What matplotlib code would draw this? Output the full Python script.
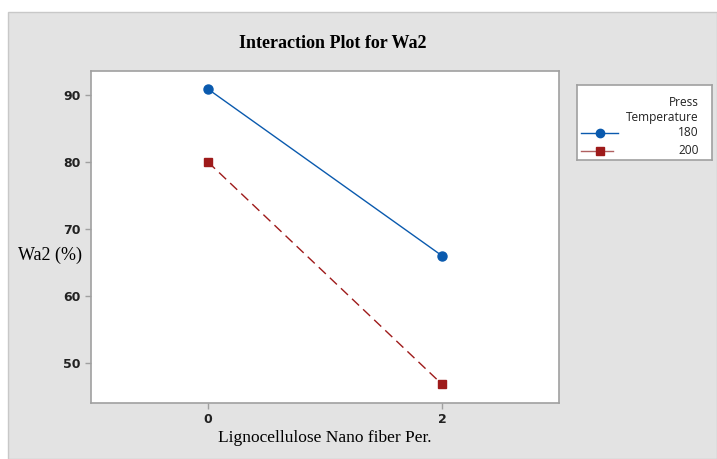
import matplotlib.pyplot as plt
from matplotlib.patches import Rectangle
from matplotlib.lines import Line2D

# data
fiber = [0, 2]
temps = ['180', '200']
wa2_180 = [90.9, 66.0]
wa2_200 = [80.0, 46.8]

blue = '#0A5AAE'
red = '#9E1A1A'
gray_bg = '#E3E3E3'

fig = plt.figure(figsize=(7.17, 4.59), dpi=100, facecolor='white')
fig.patches.append(Rectangle((8 / 717, 0), 709 / 717, 447 / 459, transform=fig.transFigure,
                             facecolor=gray_bg, edgecolor='#C8C8C8', lw=1, zorder=-10))

ax = fig.add_axes([91 / 717, 1 - 403 / 459, 468 / 717, 332 / 459])
ax.set_facecolor('white')
ax.plot(fiber, wa2_180, color=blue, lw=1, marker='o', ms=6.5, label=temps[0])
ax.plot(fiber, wa2_200, color=red, lw=1, ls=(0, (7, 4)), marker='s', ms=6, label=temps[1])

ax.set_xlim(-1, 3)
ax.set_ylim(44.0, 93.6)
ax.set_xticks(fiber)
ax.set_yticks([50, 60, 70, 80, 90])
for s in ax.spines.values():
    s.set_color('#A0A0A0')
    s.set_linewidth(1.2)
ax.tick_params(colors='#A0A0A0', labelcolor='#222222', length=4, width=1, labelsize=9)
for t in ax.get_xticklabels() + ax.get_yticklabels():
    t.set_fontweight('bold')
    t.set_family('DejaVu Sans')

fig.text(333 / 717, 1 - 43 / 459, 'Interaction Plot for Wa2', family='Liberation Serif',
         fontweight='bold', fontsize=13, ha='center', va='center')
fig.text(50 / 717, 1 - 255 / 459, 'Wa2 (%)', family='Liberation Serif', fontsize=13,
         ha='center', va='center')
fig.text(325 / 717, 1 - 438 / 459, 'Lignocellulose Nano fiber Per.', family='Liberation Serif',
         fontsize=12.5, ha='center', va='center')

# legend box
lax = fig.add_axes([577 / 717, 1 - 160 / 459, 135 / 717, 75 / 459])
lax.set_xlim(0, 1)
lax.set_ylim(0, 1)
lax.set_xticks([])
lax.set_yticks([])
for s in lax.spines.values():
    s.set_color('#A0A0A0')
    s.set_linewidth(1.2)
txt = dict(ha='right', va='center', fontsize=8.6, color='#222222', family='Open Sans')
lax.text(0.90, 0.77, 'Press', **txt)
lax.text(0.90, 0.56, 'Temperature', **txt)
lax.text(0.90, 0.36, temps[0], **txt)
lax.text(0.90, 0.12, temps[1], **txt)
lax.add_line(Line2D([0.03, 0.17, 0.30], [0.36, 0.36, 0.36], color=blue, lw=1, marker='o', ms=6,
                    markevery=[1], transform=lax.transAxes))
lax.add_line(Line2D([0.03, 0.17, 0.27], [0.12, 0.12, 0.12], color='#B06060', lw=1,
                    transform=lax.transAxes))
lax.plot([0.17], [0.12], marker='s', color=red, ms=6)

fig.savefig('out.png', dpi=100, facecolor='white')
